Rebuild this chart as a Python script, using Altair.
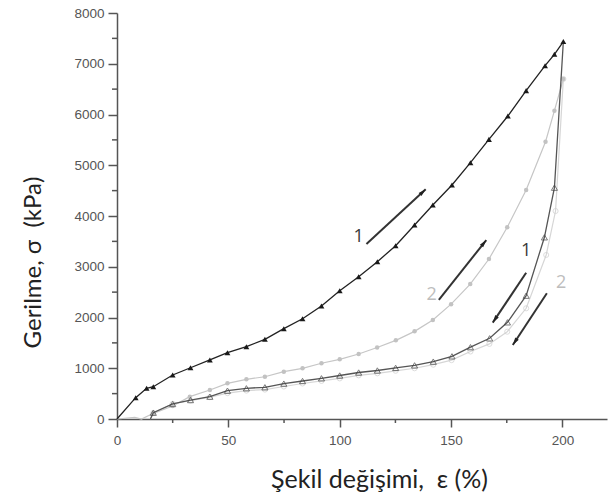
import math
import altair as alt
import pandas as pd

# ---- data ----
load1_x = [0, 8.4, 13.3, 16.3, 25, 33, 41.7, 49.6, 58.1, 66.4, 74.9, 83.3, 91.8, 100, 108.5,
           116.9, 125.1, 133.6, 141.8, 150.4, 158.7, 167, 175.5, 183.7, 192.2, 196.4, 200.4]
load1_y = [0, 420, 605, 636, 867, 1010, 1163, 1306, 1425, 1570, 1780, 1975, 2227, 2528, 2804,
           3100, 3415, 3823, 4217, 4611, 5050, 5510, 5970, 6470, 6962, 7186, 7437]

unload1_x = [200.4, 196.4, 191.9, 183.7, 175.3, 167.3, 158.7, 150.4, 142, 133.6, 125.1, 116.9,
             108.5, 100, 91.8, 83.3, 74.9, 66.4, 58.1, 49.6, 41.7, 33, 25, 16.3, 15]
unload1_y = [7437, 4558, 3580, 2430, 1905, 1590, 1415, 1235, 1130, 1057, 1008, 956,
             916, 857, 802, 749, 697, 625, 605, 558, 440, 374, 296, 124, 0]

load2_x = [0, 8, 11, 16.3, 25, 32.7, 41.7, 49.6, 58.1, 66.4, 74.9, 83.3, 91.8, 100, 108.5,
           116.8, 125.2, 133.6, 141.8, 150, 158.6, 167, 175.2, 183.7, 192.4, 196.4, 200.4]
load2_y = [0, 30, 0, 112, 256, 440, 571, 703, 782, 833, 932, 999, 1098, 1176, 1281,
           1410, 1550, 1727, 1951, 2263, 2658, 3153, 3777, 4512, 5464, 6075, 6700]

unload2_x = [200.4, 196.9, 192.7, 183.7, 175.2, 167.2, 158.7, 150.2, 142, 133.6, 125.1, 116.9,
             108.5, 100, 91.8, 83.3, 74.9, 66.4, 58.1, 49.6, 41.7, 33, 25, 16.3, 15]
unload2_y = [6700, 4098, 3232, 2181, 1720, 1480, 1330, 1160, 1070, 1000, 950, 900,
             860, 800, 750, 700, 640, 580, 560, 510, 430, 360, 300, 120, 0]

x_ticks = [0, 50, 100, 150, 200]
x_minor = [25, 75, 125, 175]
y_ticks = [0, 1000, 2000, 3000, 4000, 5000, 6000, 7000, 8000]
y_minor = [500, 1500, 2500, 3500, 4500, 5500, 6500, 7500]

arrow_x1 = [112, 144.5, 183.7, 193]
arrow_y1 = [3448, 2345, 2883, 2477]
arrow_x2 = [138.6, 165.8, 168.7, 177.7]
arrow_y2 = [4526, 3527, 1898, 1458]

label_dark_text = ["1", "1"]
label_dark_x = [108.5, 183.7]
label_dark_y = [3596, 3310]
label_light_text = ["2", "2"]
label_light_x = [141.3, 199.4]
label_light_y = [2443, 2680]

x_title = "Şekil değişimi,\u00a0 ε (%)"
y_title = "Gerilme, σ\u00a0 (kPa)"

# ---- layout ----
W, H = 490, 406
XMAX, YMAX = 220, 8000

xs = alt.Scale(domain=[0, XMAX], nice=False, zero=False)
ys = alt.Scale(domain=[0, YMAX], nice=False, zero=False)

x_axis = alt.Axis(values=x_ticks, tickSize=8, labelPadding=6, grid=False,
                  domainColor="#555", domainWidth=1.5, tickColor="#555", tickWidth=1.5,
                  labelFont="Liberation Sans", labelFontSize=13.5, labelColor="#555",
                  labelFlush=False,
                  title=x_title, titleFont="Lato", titleFontSize=25,
                  titleFontWeight="normal", titleColor="#222",
                  titleX=262, titleY=60, titleBaseline="middle", titleAlign="center")
y_axis = alt.Axis(values=y_ticks, format="d", tickSize=9, labelPadding=4, grid=False,
                  domainColor="#555", domainWidth=1.5, tickColor="#555", tickWidth=1.5,
                  labelFont="Liberation Sans", labelFontSize=13.5, labelColor="#555",
                  labelFlush=False,
                  title=y_title, titleFont="Lato", titleFontSize=24,
                  titleFontWeight="normal", titleColor="#222",
                  titleX=-84, titleY=249, titleBaseline="middle", titleAlign="center",
                  titleAngle=270)


def frame(xv, yv):
    return pd.DataFrame({"x": xv, "y": yv, "i": list(range(len(xv)))})


def enc(ch):
    return ch.encode(x=alt.X("x:Q", scale=xs, axis=x_axis),
                     y=alt.Y("y:Q", scale=ys, axis=y_axis))


d_l1 = frame(load1_x, load1_y)
d_u1 = frame(unload1_x, unload1_y)
d_l2 = frame(load2_x, load2_y)
d_u2 = frame(unload2_x, unload2_y)

layers = []
# curve 2 (light)
layers.append(enc(alt.Chart(d_l2).mark_line(color="#c6c6c6", strokeWidth=1.2)).encode(order="i:Q"))
layers.append(enc(alt.Chart(d_u2).mark_line(color="#d6d6d6", strokeWidth=1.2)).encode(order="i:Q"))
layers.append(enc(alt.Chart(d_l2).mark_circle(color="#c2c2c2", size=20, opacity=1)
                  .transform_filter("datum.x > 12")))
layers.append(enc(alt.Chart(d_u2).mark_point(shape="circle", filled=False, color="#cfcfcf",
                                             size=26, strokeWidth=1)
                  .transform_filter("datum.y > 0")))
# curve 1 (dark)
layers.append(enc(alt.Chart(d_u1).mark_line(color="#555", strokeWidth=1.3)).encode(order="i:Q"))
layers.append(enc(alt.Chart(d_l1).mark_line(color="#222", strokeWidth=1.3)).encode(order="i:Q"))
layers.append(enc(alt.Chart(d_u1).mark_point(shape="triangle-up", filled=False, color="#444",
                                             size=38, strokeWidth=1)
                  .transform_filter("datum.y > 0 && datum.x < 200")))
layers.append(enc(alt.Chart(d_l1).mark_point(shape="triangle-up", filled=True, color="#1a1a1a",
                                             size=34, opacity=1)
                  .transform_filter("datum.x > 0")))

# minor ticks
d_xm = pd.DataFrame({"x": x_minor})
layers.append(alt.Chart(d_xm).mark_rule(color="#555", strokeWidth=1.5).encode(
    x=alt.X("x:Q", scale=xs, axis=x_axis), y=alt.value(H), y2=alt.value(H + 4)))
d_ym = pd.DataFrame({"y": y_minor})
layers.append(alt.Chart(d_ym).mark_rule(color="#555", strokeWidth=1.5).encode(
    y=alt.Y("y:Q", scale=ys, axis=y_axis), x=alt.value(-5), x2=alt.value(0)))

# arrows
angles = []
for x1, y1, x2, y2 in zip(arrow_x1, arrow_y1, arrow_x2, arrow_y2):
    dx = (x2 - x1) * W / XMAX
    dy = -(y2 - y1) * H / YMAX
    angles.append(math.degrees(math.atan2(dx, -dy)) % 360)
d_ar = pd.DataFrame({"x": arrow_x1, "y": arrow_y1, "x2": arrow_x2, "y2": arrow_y2, "a": angles})
layers.append(alt.Chart(d_ar).mark_rule(color="#333", strokeWidth=2).encode(
    x=alt.X("x:Q", scale=xs, axis=x_axis), y=alt.Y("y:Q", scale=ys, axis=y_axis),
    x2="x2:Q", y2="y2:Q"))
layers.append(alt.Chart(d_ar).mark_point(shape="M0,0L0.6,2.2L-0.6,2.2Z", filled=True,
                                         color="#222", size=49, opacity=1).encode(
    x=alt.X("x2:Q", scale=xs, axis=x_axis), y=alt.Y("y2:Q", scale=ys, axis=y_axis),
    angle=alt.Angle("a:Q", scale=None)))

# labels
d_ld = pd.DataFrame({"x": label_dark_x, "y": label_dark_y, "t": label_dark_text})
d_ll = pd.DataFrame({"x": label_light_x, "y": label_light_y, "t": label_light_text})
layers.append(enc(alt.Chart(d_ld).mark_text(font="Open Sans", fontSize=18, color="#3a3a3a",
                                            baseline="middle", align="center")).encode(text="t:N"))
layers.append(enc(alt.Chart(d_ll).mark_text(font="Open Sans", fontSize=18, color="#bdbdbd",
                                            baseline="middle", align="center")).encode(text="t:N"))

chart = alt.layer(*layers).properties(
    width=W, height=H,
    autosize=alt.AutoSizeParams(type="none"),
    padding={"left": 117, "top": 13, "right": 6, "bottom": 80},
    background="white",
).configure_view(stroke=None)

chart.save("out.html", embed_options={"renderer": "svg", "actions": False})
